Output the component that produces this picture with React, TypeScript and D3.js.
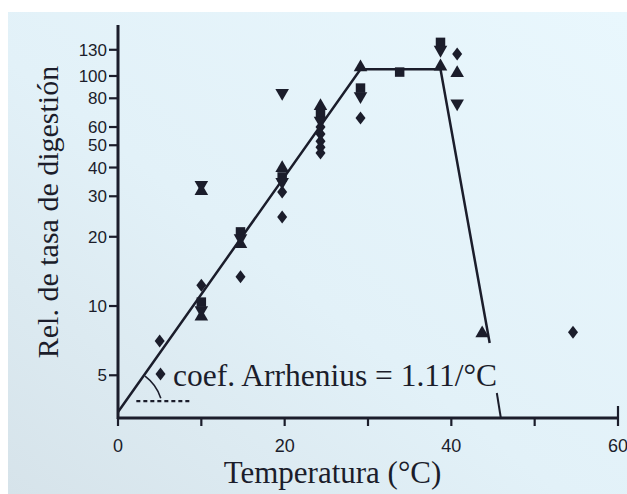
import React from "react";
import * as d3 from "d3";

// Temperature (°C) and relative digestion rate for each marker type
const diamondT = [5, 5.1, 10, 14.7, 19.7, 19.7, 24.3, 24.3, 24.3, 24.3, 24.3, 29.1, 40.7, 54.6];
const diamondV = [7.05, 5.06, 12.3, 13.4, 31.3, 24.4, 60, 56, 52, 49, 46.3, 65.6, 124.6, 7.7];

const squareT = [10, 14.7, 19.7, 24.3, 29.1, 33.8, 38.7];
const squareV = [10.4, 21, 36.4, 68, 88.6, 104, 140];

const triUpT = [10, 10, 14.7, 19.7, 24.3, 29.1, 38.7, 40.7, 43.7];
const triUpV = [31.6, 9.0, 18.6, 39.8, 74, 109, 110, 103, 7.6];

const triDownT = [10, 10, 14.7, 19.7, 19.7, 24.3, 29.1, 38.7, 40.7];
const triDownV = [33.6, 9.6, 19.7, 84.4, 34.6, 64, 81.7, 130, 76];

// Fitted model: exponential rise, plateau, sharp drop
const modelT = [0, 29.1, 38.7, 44.6];
const modelV = [3.46, 107, 107, 6.9];

// Horizontal reference used to mark the Arrhenius angle
const refT = [2.2, 8.7];
const refV = 3.86;

const yTicks = [5, 10, 20, 30, 40, 50, 60, 80, 100, 130];
const xTicks = [0, 10, 20, 30, 40, 50, 60];
const xLabelled = [0, 20, 40, 60];
const markT = 45.7;

const W = 627;
const H = 494;
const ink = "#1b1d2b";

export default function App() {
  const x = d3.scaleLinear().domain([0, 60]).range([118, 618]);
  const y = d3.scaleLog().domain([3.26, 166.6]).range([418, 25]);

  const line = d3
    .line<number>()
    .x((_, i) => x(modelT[i]))
    .y((_, i) => y(modelV[i]));

  const sym = (type: d3.SymbolType, size: number) =>
    d3.symbol().type(type).size(size)() as string;

  const diamond = "M0,-6.5L5,0L0,6.5L-5,0Z";
  const square = sym(d3.symbolSquare, 90);
  const triUp = sym(d3.symbolTriangle, 80);
  const triDown = triUp;

  // angle arc centred on the start of the model line
  const cx = x(modelT[0]);
  const cy = y(modelV[0]);
  const arcPath = d3.path();
  arcPath.arc(cx, cy, 45, (-53 * Math.PI) / 180, (-18 * Math.PI) / 180);

  const serif = "'Liberation Serif', 'Times New Roman', serif";
  const sans = "'Liberation Sans', Arial, sans-serif";

  return (
    <svg
      width={W}
      height={H}
      style={{ position: "absolute", left: 0, top: 0, display: "block" }}
    >
      <defs>
        <linearGradient id="paper" x1="1" y1="0" x2="0" y2="1">
          <stop offset="0" stopColor="#e9f7fd" />
          <stop offset="0.55" stopColor="#e2f1f8" />
          <stop offset="1" stopColor="#d6e3ea" />
        </linearGradient>
      </defs>
      <rect x={0} y={0} width={W} height={H} fill="#ffffff" />
      <rect x={8} y={12} width={W - 8} height={H - 12} fill="url(#paper)" />

      {/* axes */}
      <line x1={x(0)} x2={x(0)} y1={y(3.26) + 1} y2={25} stroke={ink} strokeWidth={3} />
      <line x1={x(0) - 1} x2={x(60)} y1={418} y2={418} stroke={ink} strokeWidth={3} />

      {yTicks.map((t) => (
        <g key={t}>
          <line x1={x(0) - 9} x2={x(0)} y1={y(t)} y2={y(t)} stroke={ink} strokeWidth={2.2} />
          <text
            x={x(0) - 11}
            y={y(t)}
            dy="0.36em"
            textAnchor="end"
            fontFamily={sans}
            fontSize={17}
            fill={ink}
          >
            {t}
          </text>
        </g>
      ))}

      {xTicks.map((t) => (
        <line
          key={t}
          x1={x(t)}
          x2={x(t)}
          y1={t === 60 ? 406 : 418}
          y2={426}
          stroke={ink}
          strokeWidth={2.2}
        />
      ))}
      {xLabelled.map((t) => (
        <text
          key={t}
          x={x(t)}
          y={452}
          textAnchor="middle"
          fontFamily={sans}
          fontSize={18}
          fill={ink}
        >
          {t}
        </text>
      ))}
      <line
        x1={x(markT) - 2}
        x2={x(markT) + 2}
        y1={393}
        y2={418}
        stroke={ink}
        strokeWidth={2}
      />

      {/* model line */}
      <path d={line(modelT) as string} fill="none" stroke={ink} strokeWidth={2.5} />

      {/* Arrhenius annotation */}
      <line
        x1={x(refT[0])}
        x2={x(refT[1])}
        y1={y(refV)}
        y2={y(refV)}
        stroke={ink}
        strokeWidth={2.2}
        strokeDasharray="4,3"
      />
      <path d={arcPath.toString()} fill="none" stroke={ink} strokeWidth={1.6} />
      <text x={173} y={386} fontFamily={serif} fontSize={31.5} fill={ink}>
        coef. Arrhenius = 1.11/°C
      </text>

      {/* data markers */}
      {diamondT.map((t, i) => (
        <path key={`d${i}`} d={diamond} transform={`translate(${x(t)},${y(diamondV[i])})`} fill={ink} />
      ))}
      {squareT.map((t, i) => (
        <path key={`s${i}`} d={square} transform={`translate(${x(t)},${y(squareV[i])})`} fill={ink} />
      ))}
      {triUpT.map((t, i) => (
        <path key={`u${i}`} d={triUp} transform={`translate(${x(t)},${y(triUpV[i])})`} fill={ink} />
      ))}
      {triDownT.map((t, i) => (
        <path
          key={`v${i}`}
          d={triDown}
          transform={`translate(${x(t)},${y(triDownV[i])}) rotate(180)`}
          fill={ink}
        />
      ))}

      {/* axis titles */}
      <text
        x={(222 + 443) / 2}
        y={483}
        textAnchor="middle"
        fontFamily={serif}
        fontSize={31}
        fill={ink}
      >
        Temperatura (°C)
      </text>
      <text
        transform={`translate(58,212) rotate(-90)`}
        textAnchor="middle"
        fontFamily={serif}
        fontSize={30}
        fill={ink}
      >
        Rel. de tasa de digestión
      </text>
    </svg>
  );
}
